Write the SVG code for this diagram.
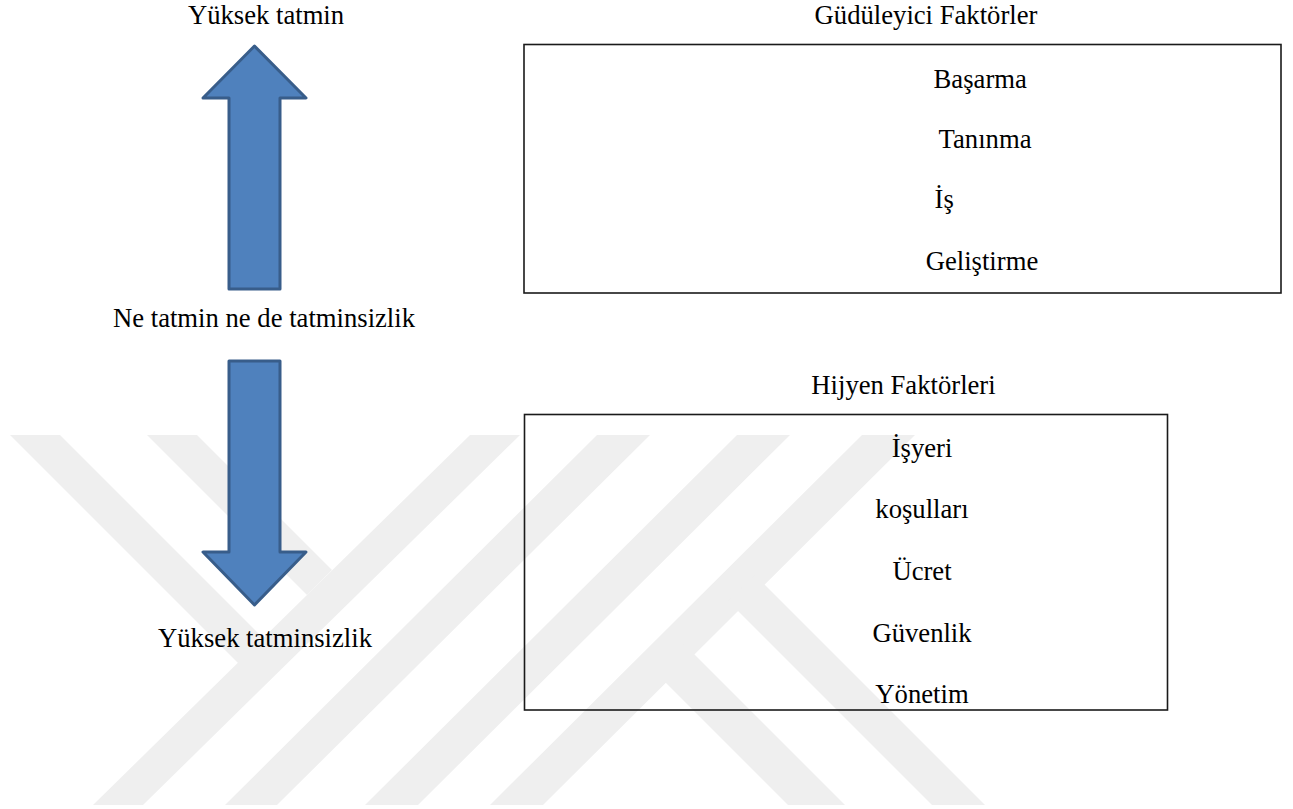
<svg xmlns="http://www.w3.org/2000/svg" width="1293" height="809" viewBox="0 0 1293 809">
<style>
.box{fill:none;stroke:#1a1a1a;stroke-width:1.6}
.arr{fill:#4f81bd;stroke:#385d8a;stroke-width:3;stroke-linejoin:round}
.wm{fill:#efefef}
</style>
<rect width="1293" height="809" fill="#fff"/>
<g id="watermark">
<polygon class="wm" points="10,435 60,435 288,663 238,663"/>
<polygon class="wm" points="147,435 197,435 332,570 307,595"/>
<polygon class="wm" points="470,435 520,435 143,805 93,805"/>
<polygon class="wm" points="597,435 650,435 277,805 225,805"/>
<polygon class="wm" points="737,435 790,435 418,805 365,805"/>
<polygon class="wm" points="862,435 915,435 543,805 490,805"/>
<polygon class="wm" points="755,575 985,805 932,805 728,601"/>
<polygon class="wm" points="684,644 845,805 788,805 656,673"/>
</g>
<g id="connectors">
<path id="arrow-up" class="arr" d="M254.5,46 L306,98 L280,98 L280,289 L229,289 L229,98 L203,98 Z"/>
<path id="arrow-down" class="arr" d="M229,361 L280,361 L280,552 L306,552 L254.5,605 L203,552 L229,552 Z"/>
</g>
<g font-family="Liberation Serif, Times New Roman, serif" font-size="26.67" fill="#000">
<g id="label-high-satisfaction"><text x="266" y="24" text-anchor="middle">Yüksek tatmin</text></g>
<g id="label-neutral"><text x="264" y="327" text-anchor="middle">Ne tatmin ne de tatminsizlik</text></g>
<g id="label-high-dissatisfaction"><text x="265" y="647" text-anchor="middle">Yüksek tatminsizlik</text></g>
<g id="box-motivators">
<text x="926" y="24" text-anchor="middle">Güdüleyici Faktörler</text>
<rect class="box" x="524" y="44.5" width="757" height="248.5"/>
<text x="933.6" y="88">Başarma</text>
<text x="938.6" y="148">Tanınma</text>
<text x="934.6" y="208">İş</text>
<text x="925.7" y="270">Geliştirme</text>
</g>
<g id="box-hygiene">
<text x="903.5" y="394" text-anchor="middle">Hijyen Faktörleri</text>
<rect class="box" x="524.5" y="414.5" width="643" height="295.5"/>
<text x="922" y="456.5" text-anchor="middle">İşyeri</text>
<text x="922" y="518.2" text-anchor="middle">koşulları</text>
<text x="922" y="580" text-anchor="middle">Ücret</text>
<text x="922" y="641.7" text-anchor="middle">Güvenlik</text>
<text x="922" y="703.3" text-anchor="middle">Yönetim</text>
</g>
</g>
</svg>
